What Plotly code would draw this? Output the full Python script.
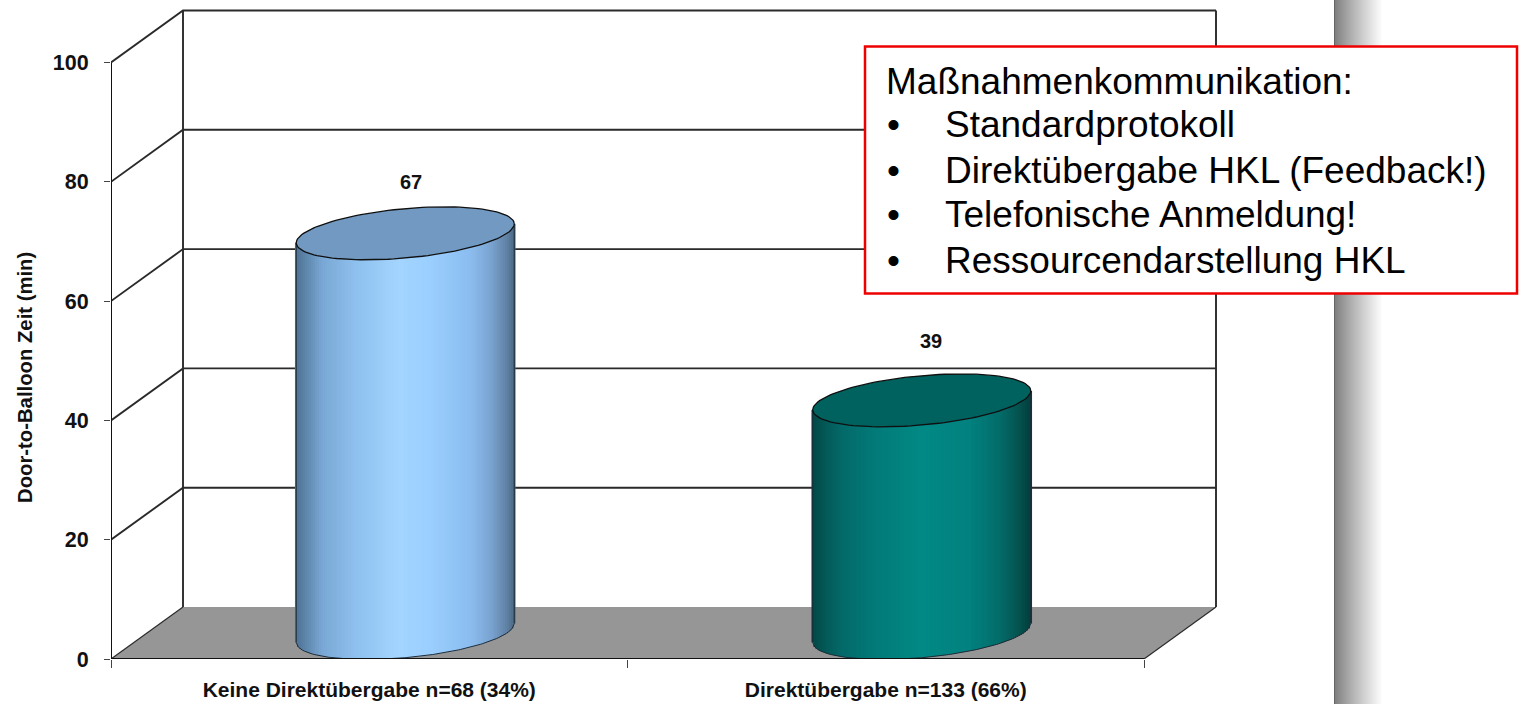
import numpy as np
import plotly.graph_objects as go

# Chart data
categories = ["Keine Direktübergabe n=68 (34%)", "Direktübergabe n=133 (66%)"]
door_to_balloon = [67, 39]
y_ticks = [0, 20, 40, 60, 80, 100]
y_title = "Door-to-Balloon Zeit (min)"
box_heading = "Maßnahmenkommunikation:"
box_items = ["Standardprotokoll", "Direktübergabe HKL (Feedback!)",
             "Telefonische Anmeldung!", "Ressourcendarstellung HKL"]

# Canvas and plot frame, in pixels
W, H = 1520, 704
LEFT, RIGHT, TOP, BASE = 111, 1222, 4, 659
PX_PER_CAT = 516.5
PX_PER_VAL = 5.965
FONT = "Liberation Sans"

# Oblique projection of the chart box, in axis units
DEPTH_X = 72 / PX_PER_CAT
DEPTH_Y = 52 / PX_PER_VAL
N_CAT = len(categories)

# Cylinder proportions, in axis units
RADIUS_X = 109 / PX_PER_CAT
RADIUS_Y = 24.7 / PX_PER_VAL
TILT = 9.5 / PX_PER_VAL
STRIPS = 110

GRADIENTS = [
    [(0, "#4f7394"), (.05, "#5f88ae"), (.12, "#7aa8d5"), (.28, "#90c1ef"), (.47, "#a3d6ff"),
     (.62, "#9bcfff"), (.8, "#8cbdf0"), (.9, "#7aa2cf"), (.97, "#5f80a2"), (1, "#4d6882")],
    [(0, "#034846"), (.06, "#045a58"), (.14, "#046b6a"), (.3, "#027c7a"), (.5, "#028a86"),
     (.72, "#028280"), (.86, "#046c69"), (.95, "#04524f"), (1, "#033f3d")],
]
CAP_COLORS = ["#7199c1", "#00625f"]
LABEL_SHIFTS = [(6, 51), (9, 59)]


def px_x(p):
    return p / W


def px_y(p):
    return 1 - p / H


def hex_rgb(c):
    return np.array([int(c[i:i + 2], 16) for i in (1, 3, 5)], dtype=float)


def ramp(stops, f):
    pos = [s[0] for s in stops]
    rgb = np.array([hex_rgb(s[1]) for s in stops])
    return "rgb(%d,%d,%d)" % tuple(np.interp(f, pos, rgb[:, i]) for i in range(3))


fig = go.Figure()
shapes = []
LINE = dict(color="#2a2a2a", width=1.9)
THIN = dict(color="#2a2a2a", width=1.2)

# Floor of the chart box
shapes.append(dict(
    type="path", xref="x", yref="y", layer="below", line=dict(width=0), fillcolor="#969696",
    path=f"M0,0 L{N_CAT},0 L{N_CAT + DEPTH_X},{DEPTH_Y} L{DEPTH_X},{DEPTH_Y} Z"))

# Wall gridlines with their slanted side-wall segments; the floor keeps only its slanted edge
for v in y_ticks:
    if v == 0:
        path = f"M0,{v} L{DEPTH_X},{v + DEPTH_Y}"
    else:
        path = f"M0,{v} L{DEPTH_X},{v + DEPTH_Y} L{N_CAT + DEPTH_X},{v + DEPTH_Y}"
    shapes.append(dict(type="path", xref="x", yref="y", layer="below",
                       line=THIN if v == 0 else LINE, path=path))

# Back corners and the right floor edge
top_back = max(y_ticks) + DEPTH_Y
for xb in (DEPTH_X, N_CAT + DEPTH_X):
    shapes.append(dict(type="line", xref="x", yref="y", layer="below", line=LINE,
                       x0=xb, x1=xb, y0=DEPTH_Y, y1=top_back))
shapes.append(dict(type="line", xref="x", yref="y", layer="below", line=THIN,
                   x0=N_CAT, x1=N_CAT + DEPTH_X, y0=0, y1=DEPTH_Y))

# Cylinders: each body is a run of thin bars shaded across its width
u = np.linspace(-1, 1, STRIPS)
half = np.sqrt(1 - u ** 2)
for i, value in enumerate(door_to_balloon):
    cx = i + 0.5 + DEPTH_X / 2
    cy = DEPTH_Y / 2
    lower = cy + TILT * u - RADIUS_Y * half
    fig.add_trace(go.Bar(
        x=cx + RADIUS_X * u,
        y=value + RADIUS_Y * half,
        base=lower,
        width=2.6 * RADIUS_X / STRIPS,
        marker=dict(color=[ramp(GRADIENTS[i], (a + 1) / 2) for a in u], line=dict(width=0)),
        cliponaxis=False, hoverinfo="skip", showlegend=False,
    ))
    # Outline of the body: sides and bottom arc
    side_x = np.r_[cx - RADIUS_X, cx + RADIUS_X * u, cx + RADIUS_X]
    side_y = np.r_[cy - TILT + value, lower, cy + TILT + value]
    fig.add_trace(go.Scatter(x=side_x, y=side_y, mode="lines", cliponaxis=False,
                             line=dict(color="#1c2c38", width=1), hoverinfo="skip", showlegend=False))
    # Top cap
    t = np.linspace(0, 2 * np.pi, 121)
    fig.add_trace(go.Scatter(
        x=cx + RADIUS_X * np.cos(t),
        y=value + cy + TILT * np.cos(t) + RADIUS_Y * np.sin(t),
        mode="lines", fill="toself", fillcolor=CAP_COLORS[i],
        line=dict(color="#101010", width=1.3), hoverinfo="skip", showlegend=False))

# Front axis lines stop at the last tick and the last category
fig.add_trace(go.Scatter(x=[0, 0], y=[0, max(y_ticks)], mode="lines", cliponaxis=False,
                         line=dict(color="#111111", width=2), hoverinfo="skip", showlegend=False))
fig.add_trace(go.Scatter(x=[0, N_CAT], y=[0, 0], mode="lines", cliponaxis=False,
                         line=dict(color="#111111", width=2.2), hoverinfo="skip", showlegend=False))

# Shaded page edge on the right
EDGE_L, EDGE_W = 1335, 48
shapes.append(dict(type="rect", xref="paper", yref="paper", layer="below", line=dict(width=0),
                   x0=px_x(EDGE_L - 1), x1=px_x(EDGE_L), y0=0, y1=1, fillcolor="#666666"))
for k in range(EDGE_W):
    g = int(128 + 127 * (k / (EDGE_W - 1)) ** 0.9)
    shapes.append(dict(type="rect", xref="paper", yref="paper", layer="below", line=dict(width=0),
                       x0=px_x(EDGE_L + k), x1=px_x(EDGE_L + k + 1.3), y0=0, y1=1,
                       fillcolor=f"rgb({g},{g},{g})"))

# Red call-out box
shapes.append(dict(type="rect", xref="paper", yref="paper", layer="above",
                   x0=px_x(865), x1=px_x(1517), y0=px_y(293.5), y1=px_y(46.5),
                   fillcolor="white", line=dict(color="#ee0000", width=2.5)))

annotations = []

# Value labels above each cylinder
for i, value in enumerate(door_to_balloon):
    dx, dy = LABEL_SHIFTS[i]
    annotations.append(dict(
        x=i + 0.5 + DEPTH_X / 2, y=value + DEPTH_Y / 2, xref="x", yref="y", text=f"<b>{value}</b>",
        xanchor="center", yanchor="middle", showarrow=False, xshift=dx, yshift=dy,
        font=dict(family=FONT, size=20, color="#111111")))

# Axis title
annotations.append(dict(
    x=px_x(25), y=px_y(378), xref="paper", yref="paper", text=f"<b>{y_title}</b>", textangle=-90,
    xanchor="center", yanchor="middle", showarrow=False,
    font=dict(family=FONT, size=20.3, color="#111111")))

# Call-out text
BOX_SIZE = 37
BOX_FONT = dict(family=FONT, size=BOX_SIZE, color="black")
annotations.append(dict(x=px_x(884), y=px_y(82), xref="paper", yref="paper", text=box_heading,
                        xanchor="left", yanchor="middle", showarrow=False, font=BOX_FONT))
for line_y, item in zip((124, 170, 214, 260), box_items):
    annotations.append(dict(x=px_x(885), y=px_y(line_y), xref="paper", yref="paper", text="•",
                            xanchor="left", yanchor="middle", showarrow=False, font=BOX_FONT))
    annotations.append(dict(x=px_x(943), y=px_y(line_y), xref="paper", yref="paper", text=item,
                            xanchor="left", yanchor="middle", showarrow=False, font=BOX_FONT))

fig.update_layout(
    width=W, height=H, margin=dict(l=0, r=0, t=0, b=0, autoexpand=False),
    paper_bgcolor="white", plot_bgcolor="rgba(0,0,0,0)",
    barmode="overlay", showlegend=False, shapes=shapes, annotations=annotations,
    xaxis=dict(
        domain=[px_x(LEFT), px_x(RIGHT)],
        range=[0, (RIGHT - LEFT) / PX_PER_CAT],
        automargin=False, showgrid=False, zeroline=False, showline=False,
        tickmode="array",
        tickvals=[i + 0.5 for i in range(N_CAT)], ticktext=categories, ticks="", ticklen=0,
        ticklabelstandoff=16,
        tickfont=dict(family=FONT, size=21, color="#111111", weight=700),
        minor=dict(tickmode="array", tickvals=list(range(N_CAT + 1)), ticks="outside",
                   ticklen=8, tickcolor="#444444", tickwidth=1),
    ),
    yaxis=dict(
        domain=[px_y(BASE), px_y(TOP)],
        range=[0, (BASE - TOP) / PX_PER_VAL],
        automargin=False, showgrid=False, zeroline=False, showline=False,
        tickmode="array", tickvals=y_ticks, ticktext=[str(v) for v in y_ticks],
        ticks="outside", ticklen=6, tickcolor="#444444", tickwidth=1,
        ticklabelstandoff=11,
        tickfont=dict(family=FONT, size=21.5, color="#111111", weight=700),
    ),
)

fig.write_html("out.html", config=dict(displayModeBar=False))
